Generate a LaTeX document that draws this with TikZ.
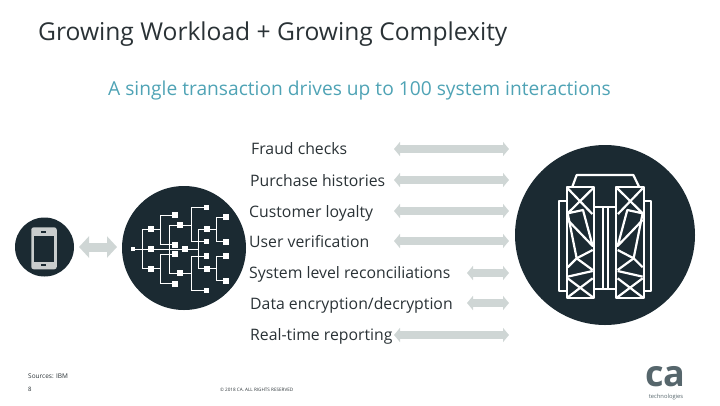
\documentclass[tikz,border=0pt]{standalone}
\usepackage{fontspec}
\setmainfont{Open Sans}
\usetikzlibrary{arrows.meta}
\definecolor{ink}{HTML}{1B2A32}
\definecolor{teal}{HTML}{4FA3B5}
\definecolor{pale}{HTML}{CFD6D5}
\definecolor{phonegrey}{HTML}{C9CDCD}
\definecolor{logogrey}{HTML}{56666C}
\definecolor{textgrey}{HTML}{2A3236}
\tikzset{
  disc/.style={circle,fill=ink,draw=none,inner sep=0pt},
  wire/.style={draw=white,line width=0.9pt},
  sq/.style={rectangle,fill=white,draw=none,inner sep=0pt,minimum size=6pt},
  frameline/.style={draw=white,line width=2.2pt,line join=round},
  rowarrow/.style={draw=pale,line width=8pt,{Triangle[length=6pt,width=14pt]}-{Triangle[length=6pt,width=14pt]}},
  bigarrow/.style={draw=pale,line width=9pt,{Triangle[length=10pt,width=21pt]}-{Triangle[length=10pt,width=21pt]}},
  rowlabel/.style={anchor=base west,inner sep=0pt,text=textgrey,font=\fontsize{15.8}{18}\selectfont},
}
\newcommand{\forkto}[4]{%
  \coordinate (t) at (#2,0);
  \draw[wire] (#1.center) -- (#1.center -| t);
  \draw[wire] (#3.center) -- (#3.center -| t) -- (#4.center -| t) -- (#4.center);
}
\newcommand{\towerlines}{%
  \draw[frameline] (35,52) rectangle (117,385);
  \draw[frameline] (35,92) -- (13,92) -- (13,362) -- (35,362);
  \draw[frameline] (38,55) -- (112,132);
  \draw[frameline] (114,55) -- (38,130) -- (84,120) -- (113,228) -- (38,150);
  \draw[frameline] (38,130) -- (65,265) -- (113,240);
  \draw[frameline] (65,265) -- (38,292);
  \draw[frameline] (65,265) -- (113,300);
  \draw[frameline] (38,320) -- (113,303);
  \draw[frameline] (38,382) -- (113,325);
  \draw[frameline] (38,325) -- (114,382);
}
\begin{document}
\begin{tikzpicture}[x=1pt,y=-1pt]
\useasboundingbox (0,0) rectangle (720,405);
% headings
\node[anchor=base west,inner sep=0pt,text=textgrey,font=\fontsize{24.6}{28}\selectfont] (title) at (38,40) {Growing Workload + Growing Complexity};
\node[anchor=base west,inner sep=0pt,text=teal,font=\fontsize{19.2}{22}\selectfont] (sub) at (108,95.5) {A single transaction drives up to 100 system interactions};
% discs
\node[disc,minimum size=59pt] (phone) at (44.5,247) {};
\node[disc,minimum size=124pt] (hub) at (184,248) {};
\node[disc,minimum size=180pt] (host) at (605,235) {};
% phone icon
\node[rectangle,rounded corners=2.5pt,fill=phonegrey,minimum width=25.5pt,minimum height=42pt,inner sep=0pt] (body) at (44,248.3) {};
\node[rectangle,fill=ink,minimum width=20.5pt,minimum height=25.5pt,inner sep=0pt] (screen) at (44.2,248.8) {};
\node[rectangle,fill=ink,minimum width=4.8pt,minimum height=2pt,inner sep=0pt] (spk) at (43.7,231.7) {};
\node[rectangle,fill=ink,minimum width=4.8pt,minimum height=2pt,inner sep=0pt] (btn) at (43.7,265) {};
% phone to hub arrow
\coordinate (pa) at (79,247);
\coordinate (pb) at (117,247);
\draw[bigarrow] (pa) -- (pb);
% network icon
\node[sq,minimum size=4pt] (r) at (132.7,249) {};
\node[sq] (a1) at (151,229.3) {};
\node[sq] (a2) at (151,249) {};
\node[sq] (a3) at (151,268.7) {};
\node[sq] (b1) at (175,215) {};
\node[sq] (b2) at (175,244.7) {};
\node[sq] (b3) at (175,254) {};
\node[sq] (b4) at (175,283.7) {};
\node[sq] (c1) at (180.3,225) {};
\node[sq] (c2) at (180.3,273.3) {};
\node[sq] (c3) at (185.3,249) {};
\node[sq,minimum size=5.5pt] (d1) at (206.3,207.7) {};
\node[sq] (d2) at (206.7,229.3) {};
\node[sq,minimum size=5.5pt] (d3) at (206.7,241.7) {};
\node[sq,minimum size=5.5pt] (d4) at (206.7,256) {};
\node[sq] (d5) at (206.7,268.7) {};
\node[sq,minimum size=5.5pt] (d6) at (206.7,290.3) {};
\node[sq] (e1) at (225.7,217) {};
\node[sq] (e2) at (225.7,241.7) {};
\node[sq] (e3) at (225.7,256) {};
\node[sq] (e4) at (225.7,280.7) {};
\forkto{r}{142}{a1}{a3}
\draw[wire] (r.center) -- (a2.center);
\forkto{a1}{160.3}{b1}{b2}
\forkto{a2}{169.7}{c1}{c2}
\draw[wire] (a2.center) -- (c3.center);
\forkto{a3}{160.3}{b3}{b4}
\forkto{c1}{191.7}{d1}{d3}
\forkto{c2}{191.7}{d4}{d6}
\forkto{c3}{198.7}{d2}{d5}
\forkto{d2}{216}{e1}{e2}
\forkto{d5}{216}{e3}{e4}
% mainframe icon
\begin{scope}[shift={(555,170)},x=0.3333pt,y=-0.3333pt]
  \towerlines
  \draw[frameline] (52,50) -- (65,15) -- (235,15) -- (252,50);
  \draw[frameline] (117,110) -- (183,110);
  \draw[frameline] (117,358) -- (183,358);
  \draw[frameline] (143,110) -- (143,358);
  \draw[frameline] (158,110) -- (158,358);
\end{scope}
\begin{scope}[shift={(655.3,170)},x=-0.3333pt,y=-0.3333pt]
  \towerlines
\end{scope}
% rows
\node[rowlabel] (l1) at (251,154) {Fraud checks};
\node[rowlabel] (l2) at (250,186) {Purchase histories};
\node[rowlabel] (l3) at (249,217) {Customer loyalty};
\node[rowlabel] (l4) at (249,247) {User verification};
\node[rowlabel] (l5) at (249,278) {System level reconciliations};
\node[rowlabel] (l6) at (250,309) {Data encryption/decryption};
\node[rowlabel] (l7) at (250,340) {Real-time reporting};
\foreach \n/\xa/\y in {1/394/149,2/394/180,3/394/211,4/394/241,5/467/273,6/467/303,7/394/335}{
  \coordinate (s\n) at (\xa,\y);
  \coordinate (f\n) at (509,\y);
  \draw[rowarrow] (s\n) -- (f\n);
}
% footer
\node[anchor=base west,inner sep=0pt,text=textgrey,font=\fontsize{6.5}{8}\selectfont] (src) at (28,378) {Sources: IBM};
\node[anchor=base west,inner sep=0pt,text=textgrey,font=\fontsize{6}{8}\selectfont] (pg) at (28,391) {8};
\node[anchor=base west,inner sep=0pt,text=textgrey,font=\fontsize{4.6}{6}\selectfont] (copy) at (220,391) {© 2018 CA. ALL RIGHTS RESERVED};
% logo
\node[anchor=base,inner sep=0pt,text=logogrey,font=\fontsize{36}{36}\selectfont\bfseries] (logo) at (665.5,386.5) {ca};
\node[anchor=base,inner sep=0pt,text=logogrey,font=\fontsize{5.8}{7}\selectfont] (tech) at (666,398.5) {technologies};
\end{tikzpicture}
\end{document}
